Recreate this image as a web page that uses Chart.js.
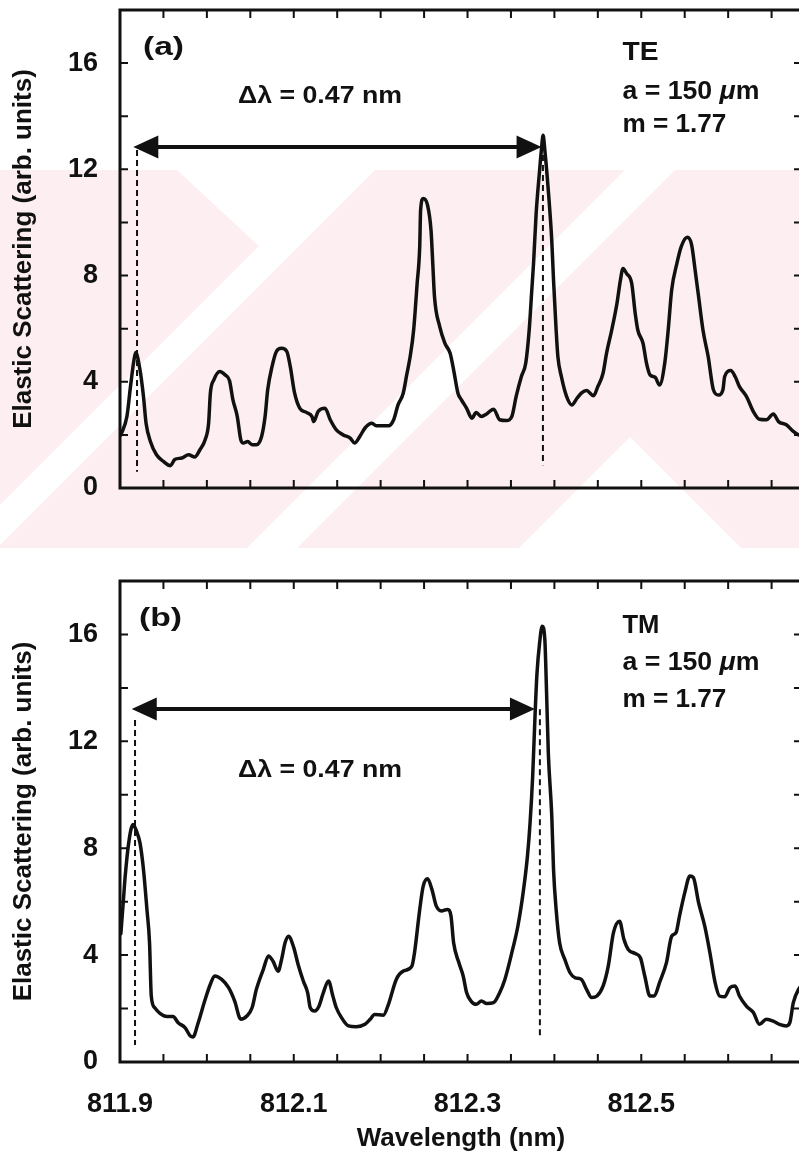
<!DOCTYPE html>
<html><head><meta charset="utf-8">
<script src="https://cdn.jsdelivr.net/npm/chart.js@4.4.1/dist/chart.umd.min.js"></script>
<style>
html,body{margin:0;padding:0;overflow:hidden;background:#fff;width:799px;height:1154px;}
#wrap{position:relative;width:799px;height:1154px;overflow:hidden;}
canvas{position:absolute;left:0;}
#c1{top:0;width:815px;height:560px;}
#c2{top:560px;width:815px;height:594px;}
</style></head><body>
<div id="wrap"><canvas id="c1" width="815" height="560"></canvas><canvas id="c2" width="815" height="594"></canvas></div>
<script>
// ---------- data ----------
const teWavelength = [811.901,811.908,811.912,811.916,811.918,811.923,811.927,811.930,811.935,811.942,811.950,811.958,811.963,811.971,811.979,811.986,811.992,811.998,812.002,812.004,812.008,812.015,812.021,812.026,812.030,812.035,812.039,812.042,812.047,812.052,812.057,812.063,812.067,812.070,812.075,812.080,812.086,812.092,812.096,812.101,812.107,812.115,812.121,812.123,812.128,812.136,812.142,812.149,812.157,812.165,812.170,812.176,812.182,812.190,812.195,812.209,812.215,812.220,812.226,812.230,812.234,812.238,812.242,812.245,812.246,812.249,812.254,812.258,812.260,812.262,812.268,812.274,812.280,812.284,812.289,812.293,812.299,812.305,812.310,812.316,812.322,812.330,812.337,812.345,812.351,812.356,812.362,812.367,812.371,812.374,812.376,812.379,812.383,812.385,812.387,812.389,812.393,812.397,812.399,812.402,812.404,812.408,812.414,812.420,812.426,812.431,812.437,812.445,812.450,812.456,812.460,812.466,812.472,812.476,812.479,812.483,812.489,812.493,812.496,812.502,812.506,812.510,812.516,812.521,812.527,812.531,812.535,812.541,812.546,812.553,812.558,812.562,812.566,812.571,812.577,812.583,812.589,812.594,812.596,812.603,812.608,812.613,812.621,812.629,812.636,812.644,812.652,812.658,812.667,812.675,812.681,812.690];
const teIntensity = [2.0,2.7,3.8,4.8,5.1,4.45,3.45,2.44,1.75,1.25,1.0,0.84,1.07,1.13,1.25,1.17,1.44,1.82,2.44,3.57,4.07,4.39,4.26,4.05,3.32,2.69,1.82,1.69,1.75,1.63,1.63,1.94,2.69,3.7,4.57,5.14,5.26,5.14,4.57,3.57,3.0,2.84,2.69,2.5,2.88,3.0,2.57,2.19,2.0,1.88,1.69,1.94,2.26,2.44,2.34,2.34,2.57,3.13,3.57,4.26,4.95,5.95,7.7,9.1,10.46,10.9,10.65,9.7,8.46,7.2,6.08,5.45,5.07,4.45,3.57,3.32,3.0,2.63,2.84,2.69,2.79,2.97,2.57,2.54,2.69,3.45,4.2,4.7,5.95,7.46,8.46,10.34,11.97,12.72,13.28,12.72,11.2,9.3,7.83,5.95,4.95,4.2,3.45,3.13,3.38,3.57,3.67,3.47,3.82,4.32,5.07,5.95,6.95,7.83,8.27,8.08,7.7,6.58,5.95,5.45,4.7,4.26,4.17,3.88,4.7,5.95,7.46,8.46,9.09,9.44,9.15,8.2,7.2,5.95,4.95,3.7,3.5,3.7,4.2,4.42,4.2,3.82,3.45,2.88,2.59,2.57,2.79,2.5,2.38,2.13,2.0,1.95];
const tmWavelength = [811.901,811.904,811.906,811.910,811.915,811.919,811.923,811.927,811.931,811.934,811.936,811.940,811.946,811.954,811.961,811.967,811.975,811.981,811.984,811.990,811.998,812.004,812.009,812.017,812.025,812.032,812.039,812.046,812.052,812.057,812.065,812.071,812.076,812.082,812.086,812.090,812.094,812.100,812.105,812.111,812.116,812.119,812.124,812.129,812.134,812.140,812.145,812.149,812.155,812.163,812.172,812.182,812.188,812.193,812.203,812.209,812.218,812.226,812.236,812.239,812.245,812.249,812.254,812.259,812.264,812.270,812.277,812.281,812.284,812.290,812.295,812.299,812.304,812.310,812.316,812.322,812.330,812.337,812.343,812.351,812.358,812.364,812.369,812.372,812.375,812.378,812.380,812.383,812.386,812.389,812.391,812.393,812.397,812.399,812.402,812.406,812.412,812.418,812.424,812.431,812.437,812.443,812.449,812.456,812.462,812.468,812.475,812.480,812.485,812.493,812.499,812.504,812.510,812.515,812.521,812.529,812.535,812.540,812.544,812.550,812.556,812.560,812.566,812.573,812.579,812.585,812.590,812.596,812.602,812.608,812.613,812.621,812.629,812.636,812.644,812.652,812.659,812.667,812.671,812.675,812.681,812.690];
const tmIntensity = [4.8,6.1,6.96,8.2,8.89,8.64,8.2,7.21,5.71,4.46,2.47,2.03,1.82,1.70,1.70,1.47,1.28,0.97,0.94,1.47,2.34,2.91,3.22,3.09,2.78,2.28,1.60,1.72,2.03,2.72,3.47,3.97,3.78,3.40,3.84,4.46,4.71,4.28,3.65,3.03,2.59,2.03,1.91,2.09,2.59,3.03,2.47,2.03,1.66,1.35,1.32,1.41,1.60,1.78,1.75,2.16,3.09,3.40,3.59,4.09,5.71,6.58,6.86,6.46,5.84,5.65,5.71,5.46,4.46,3.72,3.22,2.59,2.28,2.16,2.28,2.19,2.22,2.59,3.09,4.09,5.09,6.33,7.71,8.95,10.70,13.19,14.56,15.69,16.31,15.81,13.82,11.57,9.20,7.21,5.71,4.46,3.84,3.34,3.15,3.09,2.72,2.41,2.47,2.84,3.59,4.84,5.27,4.59,4.21,4.06,3.90,3.22,2.47,2.47,2.97,3.72,4.71,4.84,5.46,6.33,6.96,6.90,5.96,5.09,4.09,2.97,2.47,2.44,2.78,2.84,2.47,2.09,1.85,1.41,1.60,1.53,1.41,1.35,1.47,2.22,2.72,3.0];
const xTickLabels = [811.9, 812.1, 812.3, 812.5];
const xMinorTicks = [811.95, 812.0, 812.05, 812.1, 812.15, 812.2, 812.25, 812.3, 812.35, 812.4, 812.45, 812.5, 812.55, 812.6, 812.65];
const yTickLabels = [0, 4, 8, 12, 16];
const yMinorTicks = [2, 4, 6, 8, 10, 12, 14, 16];
const xTitle = 'Wavelength (nm)';
const yTitle = 'Elastic Scattering (arb. units)';

const FONT = "'Liberation Sans', Arial, Helvetica, sans-serif";
const INK = '#111';
Chart.defaults.font.family = FONT;
Chart.defaults.color = INK;

// ---------- annotations (in data coordinates) ----------
const annTop = {
  panel: {text: '(a)', x: 811.9265, y: 16.30, w: 41},
  delta: {x: 812.0358, y: 14.50, w: 164},
  arrow: {x1: 811.9153, x2: 812.3852, y: 12.84},
  dashes: [{x: 811.9196, y1: 12.73, y2: 0.61}, {x: 812.3868, y1: 13.29, y2: 0.86}],
  info: {x: 812.4783, lines: [
    {segs: [['TE', false]], y: 16.12, w: 36},
    {segs: [['a = 150 ', false], ['\u03bc', true], ['m', false]], y: 14.63, w: 137},
    {segs: [['m = 1.77', false]], y: 13.42, w: 104}]}
};
const annBottom = {
  panel: {text: '(b)', x: 811.9219, y: 16.30, w: 43},
  delta: {x: 812.0358, y: 10.68, w: 164},
  arrow: {x1: 811.9135, x2: 812.3776, y: 13.21},
  dashes: [{x: 811.9173, y1: 12.8, y2: 0.64}, {x: 812.3833, y1: 13.2, y2: 0.9}],
  info: {x: 812.4783, lines: [
    {segs: [['TM', false]], y: 16.04, w: 37},
    {segs: [['a = 150 ', false], ['\u03bc', true], ['m', false]], y: 14.67, w: 137},
    {segs: [['m = 1.77', false]], y: 13.30, w: 104}]}
};

function drawSegs(ctx, segs, x, baseline, size, targetW) {
  let w = 0;
  const parts = segs.map(([t, it]) => {
    ctx.font = (it ? 'italic ' : '') + 'bold ' + size + 'px ' + FONT;
    const pw = ctx.measureText(t).width; w += pw; return {t, it, pw};
  });
  const k = targetW ? targetW / w : 1;
  ctx.save();
  ctx.translate(x, baseline); ctx.scale(k, 1);
  ctx.fillStyle = INK; ctx.textBaseline = 'alphabetic'; ctx.textAlign = 'left';
  let cx = 0;
  parts.forEach(p => { ctx.font = (p.it ? 'italic ' : '') + 'bold ' + size + 'px ' + FONT; ctx.fillText(p.t, cx, 0); cx += p.pw; });
  ctx.restore();
}

// faint pink background mark visible behind panel (a) of the source scan
const watermarkPlugin = {
  id: 'watermark',
  beforeDraw(chart, args, opts) {
    if (!opts || !opts.on) return;
    const ctx = chart.ctx;
    const top = 170, bot = 548, W = chart.width;
    ctx.save();
    ctx.beginPath(); ctx.rect(0, top, W, bot - top); ctx.clip();
    ctx.fillStyle = '#fdeef1';
    ctx.fillRect(0, top, W, bot - top);
    ctx.fillStyle = '#ffffff';
    // white V near the top and white inverted V near the bottom
    ctx.beginPath(); ctx.moveTo(177, top); ctx.lineTo(363, top); ctx.lineTo(277, 263); ctx.closePath(); ctx.fill();
    ctx.beginPath(); ctx.moveTo(630, 437); ctx.lineTo(741, bot); ctx.lineTo(519, bot); ctx.closePath(); ctx.fill();
    // white "/" bands (x + y = const)
    [[505, 545], [795, 845]].forEach(([u1, u2]) => {
      ctx.beginPath();
      ctx.moveTo(u1 - top, top); ctx.lineTo(u2 - top, top);
      ctx.lineTo(u2 - bot, bot); ctx.lineTo(u1 - bot, bot); ctx.closePath(); ctx.fill();
    });
    ctx.restore();
  }
};

const framePlugin = {
  id: 'frame',
  afterDatasetsDraw(chart) {
    const {ctx, chartArea: a, scales: {x, y}} = chart;
    ctx.save();
    ctx.strokeStyle = INK;
    ctx.lineWidth = 3;
    ctx.strokeRect(a.left, a.top, a.right - a.left, a.bottom - a.top);
    ctx.lineWidth = 2;
    ctx.beginPath();
    xMinorTicks.forEach(v => {
      const px = x.getPixelForValue(v);
      ctx.moveTo(px, a.bottom); ctx.lineTo(px, a.bottom - 8);
      ctx.moveTo(px, a.top); ctx.lineTo(px, a.top + 8);
    });
    yMinorTicks.forEach(v => {
      const py = y.getPixelForValue(v);
      ctx.moveTo(a.left, py); ctx.lineTo(a.left + 8, py);
      ctx.moveTo(a.right, py); ctx.lineTo(a.right - 8, py);
    });
    ctx.stroke();
    ctx.restore();
  }
};

const annPlugin = {
  id: 'ann',
  afterDraw(chart, args, ann) {
    const {ctx, scales: {x, y}} = chart;
    ctx.save();
    ctx.strokeStyle = INK; ctx.lineWidth = 2; ctx.setLineDash([6, 4]);
    ann.dashes.forEach(d => {
      const px = x.getPixelForValue(d.x);
      ctx.beginPath(); ctx.moveTo(px, y.getPixelForValue(d.y1)); ctx.lineTo(px, y.getPixelForValue(d.y2)); ctx.stroke();
    });
    ctx.setLineDash([]);
    const ay = y.getPixelForValue(ann.arrow.y);
    const x1 = x.getPixelForValue(ann.arrow.x1), x2 = x.getPixelForValue(ann.arrow.x2);
    const hl = 25, hw = 11.5;
    ctx.lineWidth = 4;
    ctx.beginPath(); ctx.moveTo(x1 + hl - 2, ay); ctx.lineTo(x2 - hl + 2, ay); ctx.stroke();
    ctx.fillStyle = INK;
    ctx.beginPath(); ctx.moveTo(x1, ay); ctx.lineTo(x1 + hl, ay - hw); ctx.lineTo(x1 + hl, ay + hw); ctx.closePath(); ctx.fill();
    ctx.beginPath(); ctx.moveTo(x2, ay); ctx.lineTo(x2 - hl, ay - hw); ctx.lineTo(x2 - hl, ay + hw); ctx.closePath(); ctx.fill();
    drawSegs(ctx, [[ann.panel.text, false]], x.getPixelForValue(ann.panel.x), y.getPixelForValue(ann.panel.y), 25, ann.panel.w);
    drawSegs(ctx, [['\u0394\u03bb = 0.47 nm', false]], x.getPixelForValue(ann.delta.x), y.getPixelForValue(ann.delta.y), 24, ann.delta.w);
    ann.info.lines.forEach(l => drawSegs(ctx, l.segs, x.getPixelForValue(ann.info.x), y.getPixelForValue(l.y), 25, l.w));
    ctx.restore();
  }
};

function makeChart(id, xs, ys, showX, padTop, xAxisH, ann, wm) {
  const tickFont = {family: FONT, size: 27, weight: 'bold'};
  const titleFont = {family: FONT, size: 26, weight: 'bold'};
  return new Chart(document.getElementById(id), {
    type: 'line',
    data: {datasets: [{
      data: xs.map((v, i) => ({x: v, y: ys[i]})),
      borderColor: INK, borderWidth: 3.5, pointRadius: 0, fill: false,
      cubicInterpolationMode: 'monotone', borderJoinStyle: 'round', borderCapStyle: 'round'
    }]},
    options: {
      responsive: false, maintainAspectRatio: false, devicePixelRatio: 1, animation: false, events: [],
      layout: {padding: {top: padTop, right: 13, left: 0, bottom: 0}},
      plugins: {legend: {display: false}, tooltip: {enabled: false}, ann: ann, watermark: {on: wm}},
      scales: {
        x: {
          type: 'linear', min: 811.9, max: 812.685,
          grid: {display: false, drawTicks: false}, border: {display: false},
          afterBuildTicks: s => { s.ticks = xTickLabels.map(v => ({value: v})); },
          afterFit: s => { s.height = xAxisH; s.paddingLeft = 0; s.paddingRight = 0; },
          ticks: {display: showX, padding: 26, font: tickFont, color: INK, autoSkip: false, maxRotation: 0,
                  callback: v => Number(v).toFixed(1)},
          title: {display: showX, text: xTitle, font: titleFont, color: INK, padding: {top: 0, bottom: 0}}
        },
        y: {
          type: 'linear', min: 0, max: 18,
          grid: {display: false, drawTicks: false}, border: {display: false},
          afterBuildTicks: s => { s.ticks = yTickLabels.map(v => ({value: v})); },
          afterFit: s => { s.width = 120; s.paddingTop = 0; s.paddingBottom = 0; },
          ticks: {padding: 22, font: tickFont, color: INK, autoSkip: false, callback: v => String(v)},
          title: {display: true, text: yTitle, font: titleFont, color: INK, padding: {top: 8, bottom: 0}}
        }
      }
    },
    plugins: [watermarkPlugin, framePlugin, annPlugin]
  });
}

makeChart('c1', teWavelength, teIntensity, false, 10, 72, annTop, true);
makeChart('c2', tmWavelength, tmIntensity, true, 21, 92, annBottom, false);
</script>
</body></html>
